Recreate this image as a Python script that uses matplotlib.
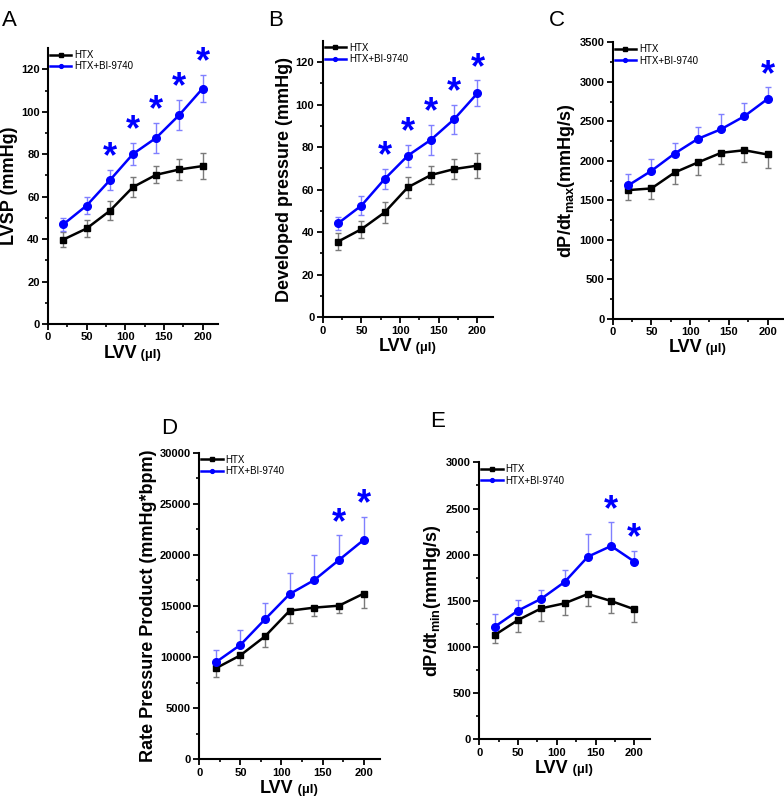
import matplotlib
matplotlib.use("Agg")
import matplotlib.pyplot as plt
import numpy as np

plt.rcParams["font.family"] = ["Liberation Sans", "DejaVu Sans"]
plt.rcParams["mathtext.fontset"] = "custom"
plt.rcParams["mathtext.bf"] = "Liberation Sans:bold"
plt.rcParams["mathtext.rm"] = "Liberation Sans:bold"

# ---- data ----
lvv = [20, 50, 80, 110, 140, 170, 200]

# A: LVSP (mmHg)
lvsp_htx = [39.8, 45.0, 53.3, 64.5, 70.3, 72.8, 74.4]
lvsp_htx_err = [3.6, 4.0, 4.5, 4.8, 4.0, 5.0, 6.2]
lvsp_bi = [47.0, 55.8, 67.7, 80.1, 87.7, 98.5, 110.9]
lvsp_bi_err = [3.0, 4.2, 4.8, 5.3, 7.0, 7.0, 6.4]

# B: developed pressure (mmHg)
devp_htx = [35.6, 41.4, 49.3, 61.1, 66.9, 69.7, 71.3]
devp_htx_err = [4.0, 4.0, 4.8, 5.0, 4.2, 4.6, 6.0]
devp_bi = [44.2, 52.5, 65.0, 76.0, 83.5, 93.2, 105.4]
devp_bi_err = [3.1, 4.3, 4.7, 5.2, 7.0, 6.8, 6.1]

# C: dP/dt max
dpmax_htx = [1630, 1651, 1853, 1980, 2102, 2135, 2081]
dpmax_htx_err = [130, 130, 143, 160, 139, 143, 165]
dpmax_bi = [1689, 1874, 2093, 2279, 2401, 2565, 2784]
dpmax_bi_err = [143, 148, 131, 151, 194, 173, 147]

# D: rate pressure product
rpp_htx = [8900, 10170, 12030, 14540, 14840, 15030, 16210]
rpp_htx_err = [850, 980, 1080, 1170, 820, 750, 1400]
rpp_bi = [9490, 11190, 13700, 16170, 17540, 19500, 21460]
rpp_bi_err = [1170, 1440, 1560, 2020, 2410, 2410, 2280]

# E: dP/dt min
dpmin_htx = [1130, 1292, 1419, 1473, 1574, 1498, 1408]
dpmin_htx_err = [90, 134, 137, 130, 130, 133, 137]
dpmin_bi = [1220, 1394, 1523, 1704, 1978, 2094, 1924]
dpmin_bi_err = [134, 111, 98, 134, 242, 256, 119]

panels = [
    # letter, rect, ylabel, ylim, ystep, htx, htx_err, bi, bi_err, both-side errors, star idx
    ("A", [0.0612, 0.5955, 0.2168, 0.3445], "LVSP (mmHg)", 130, 20,
     lvsp_htx, lvsp_htx_err, lvsp_bi, lvsp_bi_err, True, [2, 3, 4, 5, 6]),
    ("B", [0.4116, 0.6040, 0.2172, 0.3450], "Developed pressure (mmHg)", 130, 20,
     devp_htx, devp_htx_err, devp_bi, devp_bi_err, True, [2, 3, 4, 5, 6]),
    ("C", [0.7815, 0.6020, 0.2172, 0.3450], r"dP/dt$_{\mathbf{max}}$(mmHg/s)", 3500, 500,
     dpmax_htx, dpmax_htx_err, dpmax_bi, dpmax_bi_err, False, [6]),
    ("D", [0.2542, 0.0521, 0.2305, 0.3827], "Rate Pressure Product (mmHg*bpm)", 30000, 5000,
     rpp_htx, rpp_htx_err, rpp_bi, rpp_bi_err, False, [5, 6]),
    ("E", [0.6113, 0.0770, 0.2177, 0.3458], r"dP/dt$_{\mathbf{min}}$(mmHg/s)", 3000, 500,
     dpmin_htx, dpmin_htx_err, dpmin_bi, dpmin_bi_err, False, [5, 6]),
]

letter_pos = {"A": (0.003, 0.988), "B": (0.342, 0.988), "C": (0.700, 0.988),
              "D": (0.205, 0.478), "E": (0.548, 0.487)}

fig = plt.figure(figsize=(7.84, 8.01), dpi=100)

for letter, rect, ylab, ymax, ystep, htx, htx_e, bi, bi_e, both, stars in panels:
    ax = fig.add_axes(rect)
    htx = np.array(htx); htx_e = np.array(htx_e)
    bi = np.array(bi); bi_e = np.array(bi_e)
    if both:
        e_htx = [htx_e, htx_e]
        e_bi = [bi_e, bi_e]
    else:
        e_htx = [htx_e, np.zeros_like(htx_e)]
        e_bi = [np.zeros_like(bi_e), bi_e]

    ax.errorbar(lvv, htx, yerr=e_htx, fmt="none", ecolor="#7a7a7a", elinewidth=1,
                capsize=2.5, capthick=1, zorder=2)
    ax.errorbar(lvv, bi, yerr=e_bi, fmt="none", ecolor="#8080ff", elinewidth=1,
                capsize=2.5, capthick=1, zorder=2)
    ax.plot(lvv, htx, color="black", lw=1.8, marker="s", ms=5, label="HTX", zorder=3)
    ax.plot(lvv, bi, color="#0000ff", lw=1.8, marker="o", ms=5.5, label="HTX+BI-9740", zorder=4)

    # significance marks above the blue error bars
    for i in stars:
        top = bi[i] + bi_e[i]
        ax.annotate("*", xy=(lvv[i], top), xytext=(0, -4), textcoords="offset points",
                    ha="center", va="bottom", color="#0000ff", fontsize=26,
                    fontweight="bold", zorder=5)

    ax.set_xlim(0, 220)
    ax.set_ylim(0, ymax)
    ax.set_xticks([0, 50, 100, 150, 200])
    ax.set_xticks(np.arange(25, 220, 50), minor=True)
    ax.set_yticks(np.arange(0, ymax + 1, ystep))
    ax.set_yticks(np.arange(ystep / 2, ymax, ystep), minor=True)
    for s in ["top", "right"]:
        ax.spines[s].set_visible(False)
    for s in ["left", "bottom"]:
        ax.spines[s].set_linewidth(1.5)
    ax.tick_params(which="major", length=4, width=1.3, labelsize=8, pad=2)
    ax.tick_params(which="minor", length=2.5, width=1.2)
    for lab in ax.get_xticklabels() + ax.get_yticklabels():
        lab.set_fontweight("bold")

    ax.set_ylabel(ylab, fontsize=13, fontweight="bold", labelpad=2)
    ax.annotate("LVV", xy=(0.5, 0), xycoords="axes fraction", xytext=(3, -21),
                textcoords="offset points", ha="right", va="center",
                fontsize=13, fontweight="bold")
    ax.annotate(" (\u00b5l)", xy=(0.5, 0), xycoords="axes fraction", xytext=(3, -22),
                textcoords="offset points", ha="left", va="center",
                fontsize=9.5, fontweight="bold")

    ax.legend(loc="upper left", frameon=False, fontsize=7, handlelength=2.2,
              handletextpad=0.3, labelspacing=0.15, borderaxespad=0.1,
              borderpad=0.1, markerscale=0.5)

    lx, ly = letter_pos[letter]
    fig.text(lx, ly, letter, fontsize=16, ha="left", va="top")

fig.savefig("out.png", dpi=100)
